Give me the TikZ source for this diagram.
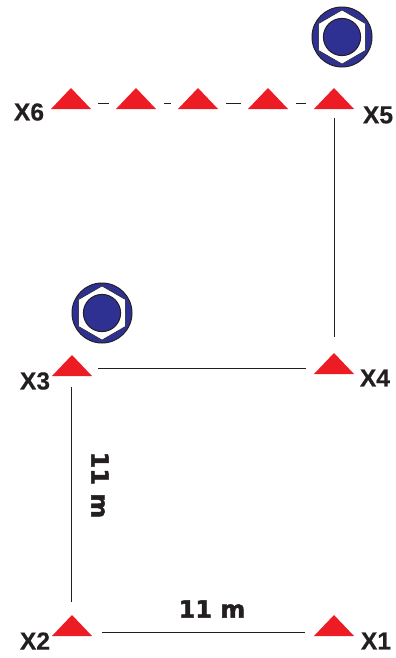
\documentclass[tikz,border=0pt]{standalone}
\usepackage{fontspec}
\setmainfont{Liberation Sans}
\newfontfamily\tagfont[FakeBold=0.4]{Liberation Sans Bold}
\newfontfamily\distfont[FakeBold=2]{DejaVu Sans Bold}
\usetikzlibrary{shapes.geometric, calc}
\definecolor{stakered}{RGB}{237,28,36}
\definecolor{boltblue}{RGB}{46,49,146}
\definecolor{inkdark}{RGB}{35,31,32}

\begin{document}
\begin{tikzpicture}[
    x=0.025cm, y=-0.025cm,
    stake/.style={isosceles triangle, isosceles triangle stretches, shape border rotate=90, fill=stakered, inner sep=0pt, outer sep=0pt, minimum width=1cm, minimum height=0.525cm, anchor=apex},
    tag/.style={font=\tagfont\fontsize{17.5}{17.5}\selectfont, text=inkdark, inner sep=0pt},
    dist/.style={font=\distfont\fontsize{17}{17}\selectfont, text=inkdark, inner sep=0pt},
    wire/.style={draw=inkdark, line width=0.7pt},
    boltdisc/.style={circle, draw=inkdark, fill=boltblue, line width=0.7pt, inner sep=0pt, minimum size=1.5cm},
    bolthex/.style={regular polygon, regular polygon sides=6, shape border rotate=30, draw=inkdark, fill=white, line width=0.4pt, inner sep=0pt, minimum size=1.35cm},
    bolthead/.style={circle, draw=inkdark, fill=boltblue, line width=0.7pt, inner sep=0pt, minimum size=0.93cm}
]

\useasboundingbox (0,0) rectangle (395,658);

% Stakes
\foreach \name/\px/\py in {X1/334/615, X2/72/615, X3/72/355, X4/334/353, X5/334/88, X6/71/88} {
    \node[stake] (\name) at (\px,\py) {};
}
\foreach \i/\px in {1/136, 2/198, 3/268} {
    \node[stake] (M\i) at (\px,88) {};
}

% Stake labels
\node[tag] (T1) at (376,641) {X1};
\node[tag] (T2) at (35,641) {X2};
\node[tag] (T3) at (35,381) {X3};
\node[tag] (T4) at (375,378) {X4};
\node[tag] (T5) at (378,115) {X5};
\node[tag] (T6) at (29,112) {X6};

% Lines between stakes
\draw[wire] ($(X2.apex)+(30,17)$) -- ($(X1.apex)+(-29,17)$);
\draw[wire] ($(X3.apex)+(-1,32)$) -- ($(X2.apex)+(-1,-13)$);
\draw[wire] ($(X3.apex)+(26,13)$) -- ($(X4.apex)+(-28,15)$);
\draw[wire] ($(X5.apex)+(0,30)$) -- ($(X4.apex)+(0,-16)$);

% Dashes along the top row
\draw[wire] ($(X6.apex)+(27,15)$) -- ($(M1.apex)+(-27,15)$);
\draw[wire] ($(M1.apex)+(28,15)$) -- ($(M2.apex)+(-27,15)$);
\draw[wire] ($(M2.apex)+(28,15)$) -- ($(M3.apex)+(-27,15)$);
\draw[wire] ($(M3.apex)+(28,15)$) -- ($(X5.apex)+(-28,15)$);

% Distances
\node[dist] (D1) at (212,609) {11 m};
\node[dist, rotate=-90] (D2) at (100,485) {11 m};

% Bolts
\foreach \i/\px/\py in {1/342/37, 2/102/313} {
    \node[boltdisc] (B\i) at (\px,\py) {};
    \node[bolthex] (H\i) at (B\i) {};
    \node[bolthead] (C\i) at (B\i) {};
}

\end{tikzpicture}
\end{document}
